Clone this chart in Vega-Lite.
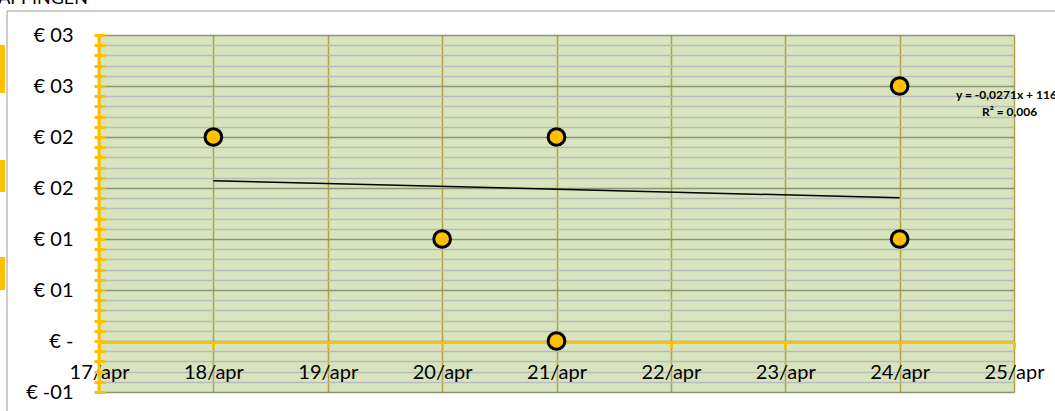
{
  "$schema": "https://vega.github.io/schema/vega-lite/v6.json",
  "width": 915,
  "height": 357,
  "autosize": {"type": "none"},
  "padding": {"left": 99, "top": 35, "right": 41, "bottom": 19},
  "background": "white",
  "config": {
    "view": {"stroke": null, "fill": "#D7E4BD"},
    "font": "Lato"
  },
  "datasets": {
    "points": [
      {"date": "2024-04-18T00:00:00", "value": 0.02},
      {"date": "2024-04-20T00:00:00", "value": 0.01},
      {"date": "2024-04-21T00:00:00", "value": 0.02},
      {"date": "2024-04-21T00:00:00", "value": 0},
      {"date": "2024-04-24T00:00:00", "value": 0.025},
      {"date": "2024-04-24T00:00:00", "value": 0.01}
    ],
    "trend": [
      {"date": "2024-04-18T00:00:00", "value": 0.01572},
      {"date": "2024-04-24T00:00:00", "value": 0.01404}
    ],
    "one": [{}]
  },
  "layer": [
    {
      "data": {"name": "trend"},
      "mark": {"type": "line", "color": "#000000", "strokeWidth": 1.5},
      "encoding": {
        "x": {
          "field": "date",
          "type": "temporal",
          "scale": {"type": "time", "domain": [{"year": 2024, "month": 4, "date": 17}, {"year": 2024, "month": 4, "date": 25}], "nice": false},
          "axis": {
            "title": null,
            "values": [
              {"year": 2024, "month": 4, "date": 17},
              {"year": 2024, "month": 4, "date": 18},
              {"year": 2024, "month": 4, "date": 19},
              {"year": 2024, "month": 4, "date": 20},
              {"year": 2024, "month": 4, "date": 21},
              {"year": 2024, "month": 4, "date": 22},
              {"year": 2024, "month": 4, "date": 23},
              {"year": 2024, "month": 4, "date": 24},
              {"year": 2024, "month": 4, "date": 25}
            ],
            "tickCount": 50,
            "labelExpr": "timeFormat(datum.value, '%d') + '/' + lower(timeFormat(datum.value, '%b'))",
            "offset": -50,
            "domain": true,
            "domainColor": "#FFC000",
            "domainWidth": 3,
            "ticks": true,
            "tickColor": "#FFC000",
            "tickWidth": 3,
            "tickSize": 6,
            "labelPadding": 14,
            "labelFont": "Lato",
            "labelFontSize": 20,
            "labelColor": "#000000",
            "labelOverlap": false,
            "labelFlush": false,
            "labelBound": false,
            "grid": true,
            "gridColor": "#B5A042",
            "gridWidth": 1.5,
            "zindex": 0
          }
        },
        "y": {
          "field": "value",
          "type": "quantitative",
          "scale": {"domain": [-0.005, 0.03], "nice": false, "zero": false},
          "axis": {
            "title": null,
            "values": [-0.005, -0.004, -0.003, -0.002, -0.001, 0, 0.001, 0.002, 0.003, 0.004, 0.005, 0.006, 0.007, 0.008, 0.009, 0.01, 0.011, 0.012, 0.013, 0.014, 0.015, 0.016, 0.017, 0.018, 0.019, 0.02, 0.021, 0.022, 0.023, 0.024, 0.025, 0.026, 0.027, 0.028, 0.029, 0.03],
            "tickCount": 100,
            "labelExpr": "round(datum.value * 1000) === 30 || round(datum.value * 1000) === 25 ? '€ 03' : round(datum.value * 1000) === 20 || round(datum.value * 1000) === 15 ? '€ 02' : round(datum.value * 1000) === 10 || round(datum.value * 1000) === 5 ? '€ 01' : round(datum.value * 1000) === 0 ? '€ -' : round(datum.value * 1000) === -5 ? '€ -01' : ''",
            "offset": -6,
            "domain": false,
            "ticks": true,
            "tickColor": "#FFC000",
            "tickWidth": 3,
            "tickSize": 11,
            "labelPadding": 21,
            "labelFont": "Lato",
            "labelFontSize": 20,
            "labelColor": "#000000",
            "labelOverlap": false,
            "labelFlush": false,
            "labelBound": false,
            "grid": true,
            "gridColor": {"condition": {"test": "abs(round(datum.value * 1000)) % 5 === 0", "value": "#8A9478"}, "value": "#BABABA"},
            "gridWidth": 1.5,
            "zindex": 0
          }
        }
      }
    },
    {
      "data": {"name": "one"},
      "mark": {"type": "rect", "fill": null, "filled": false, "stroke": "#9a9a9a", "strokeWidth": 1},
      "encoding": {
        "x": {"datum": {"year": 2024, "month": 4, "date": 16, "hours": 4, "minutes": 42}, "type": "temporal"},
        "x2": {"datum": {"year": 2024, "month": 4, "date": 26, "hours": 12}},
        "y": {"datum": 0.032353, "type": "quantitative"},
        "y2": {"datum": -0.01}
      }
    },
    {
      "data": {"name": "one"},
      "mark": {"type": "rect", "fill": "#FFC000"},
      "encoding": {
        "x": {"datum": {"year": 2024, "month": 4, "date": 16, "hours": 0}, "type": "temporal"},
        "x2": {"datum": {"year": 2024, "month": 4, "date": 16, "hours": 4, "minutes": 16}},
        "y": {"datum": 0.02902, "type": "quantitative"},
        "y2": {"datum": 0.024314}
      }
    },
    {
      "data": {"name": "one"},
      "mark": {"type": "rect", "fill": "#FFC000"},
      "encoding": {
        "x": {"datum": {"year": 2024, "month": 4, "date": 16, "hours": 0}, "type": "temporal"},
        "x2": {"datum": {"year": 2024, "month": 4, "date": 16, "hours": 4, "minutes": 16}},
        "y": {"datum": 0.017745, "type": "quantitative"},
        "y2": {"datum": 0.014608}
      }
    },
    {
      "data": {"name": "one"},
      "mark": {"type": "rect", "fill": "#FFC000"},
      "encoding": {
        "x": {"datum": {"year": 2024, "month": 4, "date": 16, "hours": 0}, "type": "temporal"},
        "x2": {"datum": {"year": 2024, "month": 4, "date": 16, "hours": 4, "minutes": 16}},
        "y": {"datum": 0.008235, "type": "quantitative"},
        "y2": {"datum": 0.005}
      }
    },
    {
      "data": {"name": "one"},
      "mark": {"type": "text", "text": "APPINGEN", "align": "left", "baseline": "alphabetic", "fontSize": 18, "font": "Lato", "color": "#000000"},
      "encoding": {
        "x": {"datum": {"year": 2024, "month": 4, "date": 16, "hours": 2, "minutes": 50}, "type": "temporal"},
        "y": {"datum": 0.03304, "type": "quantitative"}
      }
    },
    {
      "data": {"name": "one"},
      "mark": {"type": "rule", "color": "#FFC000", "strokeWidth": 3},
      "encoding": {
        "x": {"datum": {"year": 2024, "month": 4, "date": 17}, "type": "temporal"}
      }
    },
    {
      "data": {"name": "points"},
      "mark": {"type": "point", "shape": "circle", "filled": true, "fill": "#FFC000", "stroke": "#000000", "strokeWidth": 3, "size": 280, "opacity": 1},
      "encoding": {
        "x": {"field": "date", "type": "temporal"},
        "y": {"field": "value", "type": "quantitative"}
      }
    },
    {
      "data": {"name": "one"},
      "mark": {"type": "text", "text": "y = -0,0271x + 116", "align": "left", "baseline": "middle", "fontSize": 12, "fontWeight": "bold", "font": "Lato", "color": "#000000"},
      "encoding": {
        "x": {"datum": {"year": 2024, "month": 4, "date": 24, "hours": 11, "minutes": 50}, "type": "temporal"},
        "y": {"datum": 0.024118, "type": "quantitative"}
      }
    },
    {
      "data": {"name": "one"},
      "mark": {"type": "text", "text": "R² = 0,006", "align": "left", "baseline": "middle", "fontSize": 12, "fontWeight": "bold", "font": "Lato", "color": "#000000"},
      "encoding": {
        "x": {"datum": {"year": 2024, "month": 4, "date": 24, "hours": 17, "minutes": 17}, "type": "temporal"},
        "y": {"datum": 0.022451, "type": "quantitative"}
      }
    }
  ]
}
